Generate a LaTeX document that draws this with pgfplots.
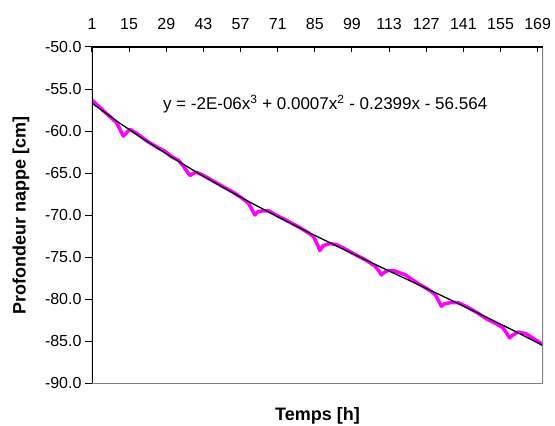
\documentclass[border=0pt]{standalone}
\usepackage{pgfplots}
\pgfplotsset{compat=1.18}
\usepackage{fontspec}
\setmainfont{Liberation Sans}
\definecolor{nappe}{RGB}{255,0,255}

\begin{document}
\begin{tikzpicture}
\begin{axis}[
    scale only axis,
    width=451bp, height=336.5bp,
    xmin=1, xmax=171,
    ymin=-90, ymax=-50,
    axis line style={draw=none},
    xtick={1,15,...,169},
    xtick pos=right, xticklabel pos=right,
    xtick align=inside,
    ytick={-90,-85,...,-50},
    ytick pos=left, ytick align=outside,
    major tick length=7bp,
    x tick style={/pgfplots/major tick length=5bp, black, line width=1bp},
    y tick style={black, line width=1bp},
    ticklabel style={font=\fontsize{16bp}{19bp}\selectfont},
    xticklabel style={yshift=14bp},
    /pgf/number format/assume math mode=true,
    yticklabel style={/pgf/number format/.cd, fixed, fixed zerofill, precision=1},
    clip=true,
]
% niveau mesure
\addplot[nappe, line width=3.5bp, line join=round] coordinates {
(1,-56.28) (3,-56.90) (6,-57.78) (7,-58.06) (10.3,-59.00) (11.6,-59.83) (12.8,-60.59) (14,-60.20) (15.3,-59.78) (18,-60.31) (22,-61.24) (26,-62.00) (28.5,-62.40) (31,-63.04) (33.5,-63.45) (35.4,-64.14) (36.7,-64.74) (37.9,-65.27) (39.1,-65.04) (40.4,-64.89) (43,-65.27) (46,-65.81) (50,-66.53) (54,-67.23) (57,-67.85) (59.9,-68.54) (61.2,-69.26) (62.4,-69.96) (63.6,-69.57) (65.5,-69.48) (67.5,-69.46) (71,-70.08) (75,-70.73) (79,-71.41) (82,-71.98) (84.4,-72.51) (85.7,-73.31) (86.9,-74.19) (88.1,-73.63) (90.6,-73.36) (93,-73.48) (96,-73.93) (100,-74.64) (104,-75.29) (107.6,-76.02) (108.9,-76.52) (110.1,-77.09) (111.3,-76.77) (112.6,-76.57) (115,-76.62) (118.9,-77.05) (121,-77.51) (124.5,-78.23) (127.5,-78.77) (130.2,-79.37) (131.5,-80.07) (132.7,-80.81) (133.9,-80.53) (136.5,-80.37) (139,-80.39) (142.5,-80.92) (146,-81.55) (150,-82.37) (153,-82.83) (155.9,-83.38) (157.2,-83.98) (158.4,-84.57) (159.6,-84.26) (161.6,-83.88) (164.7,-84.10) (167.5,-84.68) (171,-85.37)
};
% courbe de tendance
\addplot[black, line width=1.3bp] coordinates {
(1,-56.68) (11,-58.95) (21,-61.08) (31,-63.09) (41,-65.00) (51,-66.80) (61,-68.53) (71,-70.18) (81,-71.78) (91,-73.32) (101,-74.84) (111,-76.33) (121,-77.81) (131,-79.29) (141,-80.79) (151,-82.32) (161,-83.88) (171,-85.50)
};
\draw[gray, line width=1.5bp] (rel axis cs:1,1) -- (rel axis cs:1,0) -- (rel axis cs:0,0);
\draw[black, line width=1.5bp] (rel axis cs:1,1) -- (rel axis cs:0,1);
\draw[black, line width=2.2bp] (rel axis cs:0,0) -- (rel axis cs:0,1);
\node[anchor=base west, inner sep=0pt, font=\fontsize{17bp}{20bp}\selectfont]
    at (axis cs:27.7,-57.43) {y = -2E-06x\textsuperscript{3} + 0.0007x\textsuperscript{2} - 0.2399x - 56.564};
\end{axis}
\node[rotate=90, font=\fontsize{18bp}{21bp}\selectfont\bfseries] at ([xshift=-71bp]current axis.west) {Profondeur nappe [cm]};
\node[font=\fontsize{18bp}{21bp}\selectfont\bfseries] at ([yshift=-32bp]current axis.south) {Temps [h]};
\pgfresetboundingbox
\path[use as bounding box] (current axis.south west) ++(-92bp,-42bp) rectangle ([shift={(12bp,47bp)}]current axis.north east);
\end{tikzpicture}
\end{document}
